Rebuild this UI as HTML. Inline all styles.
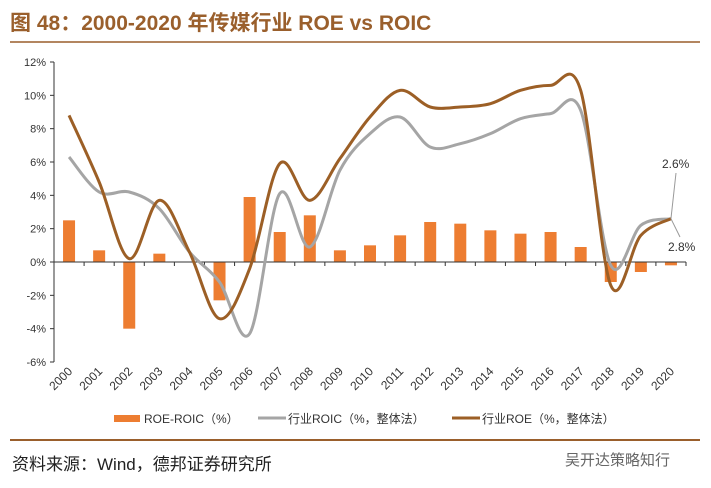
<!DOCTYPE html>
<html><head><meta charset="utf-8"><style>
body{margin:0;background:#fff;width:711px;height:483px;overflow:hidden;font-family:"Liberation Sans","Noto Sans CJK SC",sans-serif}
</style></head><body>
<svg id="c" width="711" height="483" xmlns="http://www.w3.org/2000/svg">
<text x="10" y="30" font-size="21" font-weight="bold" fill="#9a5f2c" font-family="Liberation Sans, Noto Sans CJK SC, sans-serif">图 48：2000-2020 年传媒行业 ROE vs ROIC</text>
<line x1="10" y1="42" x2="700" y2="42" stroke="#9a5f2c" stroke-width="1.5"/>
<line x1="10" y1="440" x2="700" y2="440" stroke="#9a5f2c" stroke-width="2"/>
<text x="12" y="470" font-size="17" fill="#222" font-family="Liberation Sans, Noto Sans CJK SC, sans-serif">资料来源：Wind，德邦证券研究所</text>
<text x="565" y="465" font-size="15" fill="#666" font-family="Liberation Sans, Noto Sans CJK SC, sans-serif">吴开达策略知行</text>
<g id="plot"></g>
</svg>
<script>
const years=["2000","2001","2002","2003","2004","2005","2006","2007","2008","2009","2010","2011","2012","2013","2014","2015","2016","2017","2018","2019","2020"];
const diff=[2.5,0.7,-4.0,0.5,0,-2.3,3.9,1.8,2.8,0.7,1.0,1.6,2.4,2.3,1.9,1.7,1.8,0.9,-1.2,-0.6,-0.2];
const roic=[6.3,4.2,4.2,3.2,0.6,-1.2,-4.3,4.1,0.9,5.5,7.7,8.7,6.9,7.1,7.7,8.6,8.9,9.1,-0.2,2.2,2.6];
const roe=[8.8,4.8,0.2,3.7,0.6,-3.4,-0.4,5.9,3.7,6.2,8.7,10.3,9.3,9.3,9.5,10.3,10.6,10.3,-1.4,1.6,2.6];
const yTicks=[12,10,8,6,4,2,0,-2,-4,-6];
const NS="http://www.w3.org/2000/svg";
const g=document.getElementById('plot');
const x0=54,x1=686,yTop=62,yBot=362;
const bw=(x1-x0)/years.length;
const X=i=>x0+bw*(i+0.5);
const Y=v=>yTop+(12-v)/18*(yBot-yTop);
function mk(t,a){const e=document.createElementNS(NS,t);for(const k in a)e.setAttribute(k,a[k]);g.appendChild(e);return e;}
let e=mk('line',{x1:x0,y1:yTop,x2:x0,y2:yBot,stroke:'#333'});


yTicks.forEach(v=>{
 let t=mk('line',{x1:x0-4,y1:Y(v),x2:x0,y2:Y(v),stroke:'#333'});
 
 
 let l=mk('text',{x:x0-8,y:Y(v)+4,'font-size':11,'text-anchor':'end',fill:'#333'});
 l.textContent=v+'%';
 
 
});
diff.forEach((v,i)=>{
 let r=mk('rect',{x:X(i)-6,y:Math.min(Y(v),Y(0)),width:12,height:Math.abs(Y(v)-Y(0)),fill:'#ed7d31'});
 
 
});
e=mk('line',{x1:x0,y1:Y(0),x2:x1,y2:Y(0),stroke:'#333'});


years.forEach((y,i)=>{
 let t=mk('line',{x1:x0+bw*(i+1),y1:Y(0),x2:x0+bw*(i+1),y2:Y(0)+4,stroke:'#333'});
 
 
 let l=mk('text',{x:X(i)+4,y:372,'font-size':12,'text-anchor':'end',fill:'#333',transform:`rotate(-45 ${X(i)+4} 372)`});
 l.textContent=y;
 
 
});
function path(vals){
 const p=vals.map((v,i)=>[X(i),Y(v)]);
 let d=`M${p[0][0]},${p[0][1]}`;
 for(let i=0;i<p.length-1;i++){
  const a=p[Math.max(i-1,0)],b=p[i],c=p[i+1],n=p[Math.min(i+2,p.length-1)];
  d+=` C${b[0]+(c[0]-a[0])/6},${b[1]+(c[1]-a[1])/6} ${c[0]-(n[0]-b[0])/6},${c[1]-(n[1]-b[1])/6} ${c[0]},${c[1]}`;
 }
 return d;
}
e=mk('path',{d:path(roic),fill:'none',stroke:'#a5a5a5','stroke-width':3});


e=mk('path',{d:path(roe),fill:'none',stroke:'#9c5f26','stroke-width':3});


const last=years.length-1;
e=mk('line',{x1:X(last),y1:Y(roic[last]),x2:676,y2:173,stroke:'#999'});


e=mk('line',{x1:X(last),y1:Y(roe[last]),x2:680,y2:237,stroke:'#999'});


e=mk('text',{x:662,y:168,'font-size':12,fill:'#333'});e.textContent='2.6%';


e=mk('text',{x:668,y:251,'font-size':12,fill:'#333'});e.textContent='2.8%';


const leg=[["ROE-ROIC（%）",'#ed7d31',114,'rect'],["行业ROIC（%，整体法）",'#a5a5a5',258,'line'],["行业ROE（%，整体法）",'#9c5f26',452,'line']];
leg.forEach(([t,c,x,k],i)=>{
 let s=k==='rect'?mk('rect',{x:x,y:415,width:26,height:7,fill:c}):mk('line',{x1:x,y1:418,x2:x+28,y2:418,stroke:c,'stroke-width':3});
 
 
 let l=mk('text',{x:x+30,y:423,'font-size':12,fill:'#333','font-family':'Liberation Sans, Noto Sans CJK SC, sans-serif'});
 l.textContent=t;
 
 
});
</script>
</body></html>
